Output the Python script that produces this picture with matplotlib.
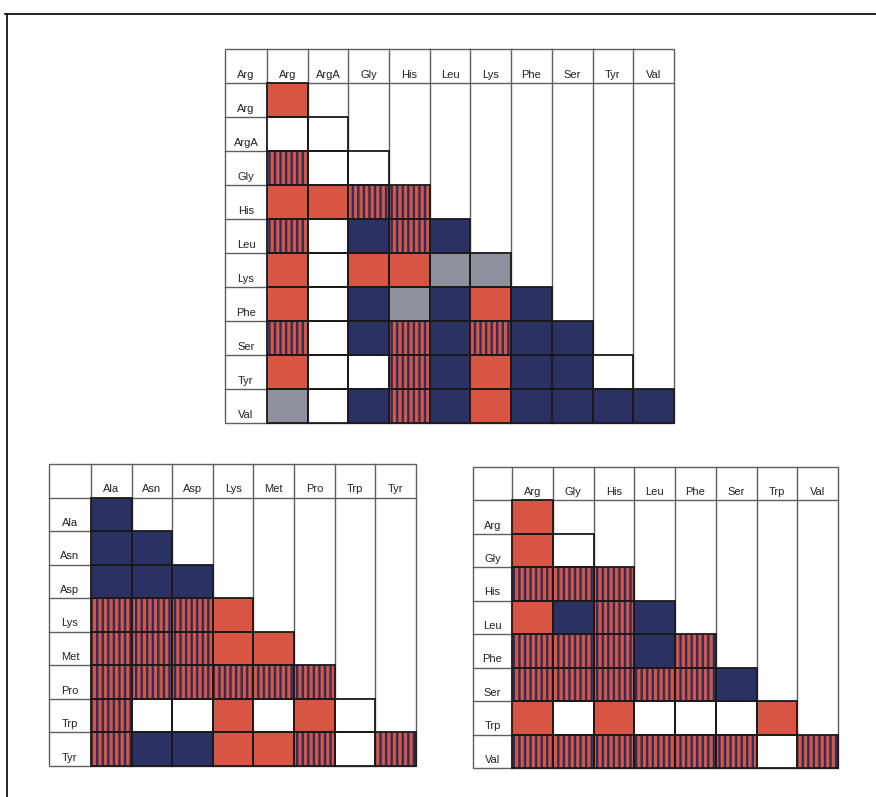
import matplotlib
matplotlib.use("Agg")
import matplotlib.pyplot as plt
from matplotlib.patches import Rectangle
from matplotlib.lines import Line2D

plt.rcParams['font.family'] = ['Liberation Sans', 'DejaVu Sans']
plt.rcParams['hatch.linewidth'] = 1.7

# ---- data ----
# codes: R = red, B = blue, G = gray, S = striped (red/blue), W = white
top_corner = "Arg"
top_labels = ["Arg", "ArgA", "Gly", "His", "Leu", "Lys", "Phe", "Ser", "Tyr", "Val"]
top_cells = [
    "R",
    "WW",
    "SWW",
    "RRSS",
    "SWBSB",
    "RWRRGG",
    "RWBGBRB",
    "SWBSBSBB",
    "RWWSBRBBW",
    "GWBSBRBBBB",
]

left_corner = ""
left_labels = ["Ala", "Asn", "Asp", "Lys", "Met", "Pro", "Trp", "Tyr"]
left_cells = [
    "B",
    "BB",
    "BBB",
    "SSSR",
    "SSSRR",
    "SSSSSS",
    "SWWRWRW",
    "SBBRRSWS",
]

right_corner = ""
right_labels = ["Arg", "Gly", "His", "Leu", "Phe", "Ser", "Trp", "Val"]
right_cells = [
    "R",
    "RW",
    "SSS",
    "RBSB",
    "SSSBS",
    "SSSSSB",
    "RWRWWWR",
    "SSSSSSWS",
]

# ---- style ----
RED = '#d85543'
BLUE = '#2b3163'
GRAY = '#8e909e'
STRIPE = '#2a2f5e'
GRID = '#5f5f5f'
W, H = 876, 797

fig = plt.figure(figsize=(W / 100, H / 100), dpi=100)


def draw_matrix(box, corner, labels, cells, label_w):
    x0, y0, x1, y1 = box
    ax = fig.add_axes([x0 / W, 1 - y1 / H, (x1 - x0) / W, (y1 - y0) / H])
    n = len(labels)
    ax.set_xlim(-label_w, n)
    ax.set_ylim(n, -1)
    ax.axis('off')
    # grid: outer box, column separators, header line, label-column separators
    ax.add_patch(Rectangle((-label_w, -1), n + label_w, n + 1, fill=False,
                           edgecolor=GRID, lw=1.0, zorder=1, clip_on=False))
    for j in range(n):
        ax.plot([j, j], [-1, n], color=GRID, lw=1.0, zorder=1, clip_on=False)
    ax.plot([-label_w, n], [0, 0], color=GRID, lw=1.0, zorder=1, clip_on=False)
    for i in range(1, n):
        ax.plot([-label_w, 0], [i, i], color=GRID, lw=1.0, zorder=1, clip_on=False)
    # cells
    for i, row in enumerate(cells):
        for j, code in enumerate(row):
            if code == 'S':
                ax.add_patch(Rectangle((j, i), 1, 1, facecolor=RED,
                                       edgecolor=STRIPE, hatch='|||', lw=0,
                                       zorder=2, clip_on=False))
            else:
                fc = {'R': RED, 'B': BLUE, 'G': GRAY, 'W': 'white'}[code]
                ax.add_patch(Rectangle((j, i), 1, 1, facecolor=fc, lw=0,
                                       zorder=2, clip_on=False))
            ax.add_patch(Rectangle((j, i), 1, 1, fill=False,
                                   edgecolor='#1a1a1a', lw=1.3, zorder=3,
                                   clip_on=False))
    # labels
    txt = dict(fontsize=8, color='#222222', ha='center', va='bottom', zorder=4)
    if corner:
        ax.text(-label_w / 2, -0.1, corner, **txt)
    for j, lab in enumerate(labels):
        ax.text(j + 0.5, -0.1, lab, **txt)
    for i, lab in enumerate(labels):
        ax.text(-label_w / 2, i + 0.9, lab, **txt)


draw_matrix((225, 49, 674, 423), top_corner, top_labels, top_cells, 1.03)
draw_matrix((49, 464, 416, 766), left_corner, left_labels, left_cells, 1.03)
draw_matrix((473, 467, 838, 768), right_corner, right_labels, right_cells, 0.96)

# outer frame (left and top edges)
fig.add_artist(Line2D([7 / W, 7 / W], [1 - 14 / H, 0], transform=fig.transFigure,
                      color='black', lw=1.2))
fig.add_artist(Line2D([5 / W, 1], [1 - 14 / H, 1 - 14 / H], transform=fig.transFigure,
                      color='black', lw=1.2))

fig.savefig('out.png', dpi=100)
